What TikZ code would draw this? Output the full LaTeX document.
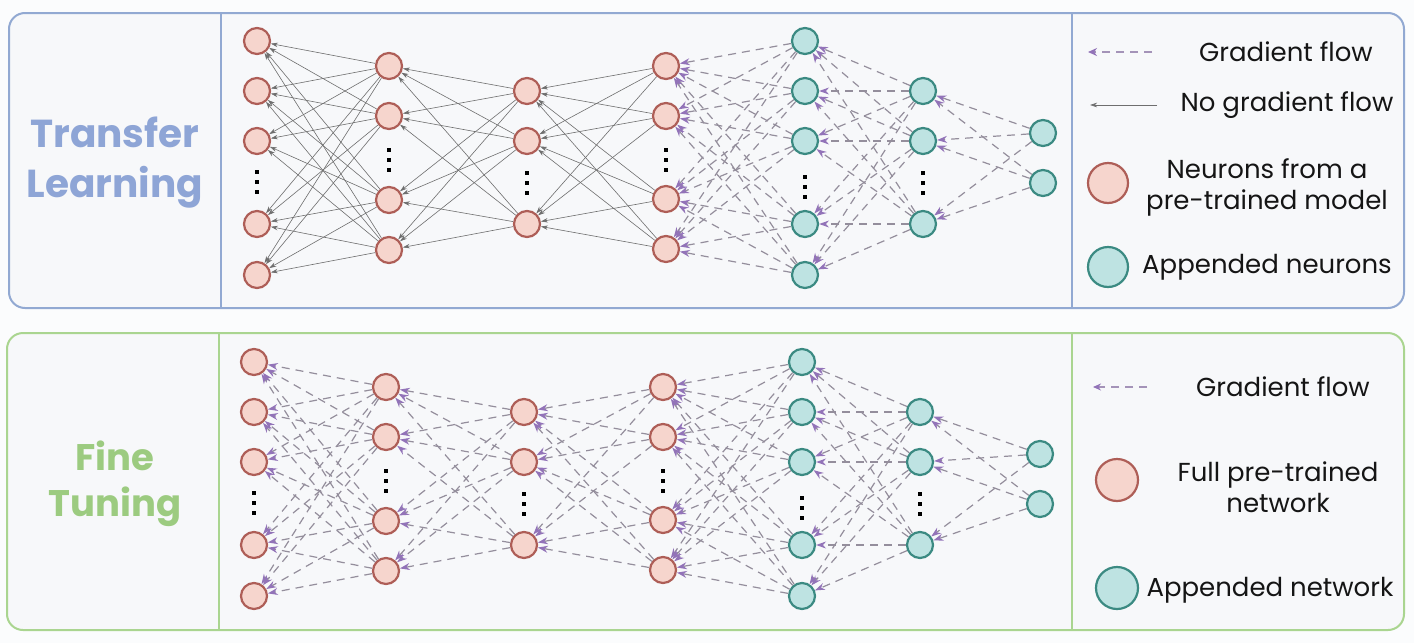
\documentclass[tikz,border=0pt]{standalone}
\usepackage{fontspec}
\setmainfont{Poppins}
\usetikzlibrary{arrows.meta}
\definecolor{bgcol}{HTML}{FBFCFD}
\definecolor{panelfill}{HTML}{F7F8FA}
\definecolor{topframe}{HTML}{92A9D2}
\definecolor{botframe}{HTML}{AAD590}
\definecolor{titleblue}{HTML}{8EA5D6}
\definecolor{titlegreen}{HTML}{9CCB80}
\definecolor{pinkfill}{HTML}{F6D5CD}
\definecolor{pinkline}{HTML}{AE5E57}
\definecolor{tealfill}{HTML}{BEE3E2}
\definecolor{tealline}{HTML}{3B8A82}
\definecolor{solidgray}{HTML}{6E6E6E}
\definecolor{dashgray}{HTML}{948E9C}
\definecolor{arrowpurple}{HTML}{9273B8}
\definecolor{legdash}{HTML}{A493B8}
\definecolor{txt}{HTML}{151515}
\begin{document}
\begin{tikzpicture}[x=1pt,y=-1pt,
  pn/.style={circle, draw=pinkline, fill=pinkfill, line width=2.2pt, minimum size=26pt, inner sep=0pt},
  cn/.style={circle, draw=tealline, fill=tealfill, line width=2.2pt, minimum size=26pt, inner sep=0pt},
  solidarrow/.style={draw=solidgray, line width=0.6pt, -{Stealth[length=7pt,width=4.5pt]}},
  dasharrow/.style={draw=dashgray, line width=1.2pt, dash pattern=on 8pt off 6pt, -{Stealth[length=10pt,width=7pt,color=arrowpurple]}},
  legtext/.style={font=\fontsize{26}{31}\selectfont, text=txt, align=center, inner sep=0pt},
  titletext/.style={font=\fontsize{39}{50}\selectfont\bfseries, align=center, inner sep=0pt},
  frame/.style={line width=2pt, rounded corners=16pt, fill=panelfill}
  ]
\useasboundingbox (0,0) rectangle (1414,643);
\fill[bgcol] (0,0) rectangle (1414,643);
% panels
\draw[frame, draw=topframe] (9,13) rectangle (1404,308);
\draw[topframe, line width=2pt] (221,13) -- (221,308);
\draw[topframe, line width=2pt] (1072,13) -- (1072,308);
\draw[frame, draw=botframe] (7,333) rectangle (1404,630);
\draw[botframe, line width=2pt] (219,333) -- (219,630);
\draw[botframe, line width=2pt] (1072,333) -- (1072,630);
% titles
\node[titletext, text=titleblue] (ttl) at (115,163) {Transfer\\Learning};
\node[titletext, text=titlegreen, font=\fontsize{37}{46}\selectfont\bfseries] (btl) at (115,484) {Fine\\Tuning};
% neurons
\foreach \p/\dx/\dy in {t/0/0, b/-3/321} {
  \begin{scope}[shift={(\dx,\dy)}]
    \foreach \i/\y in {1/41,2/91,3/141,4/224,5/275} \node[pn] (\p1\i) at (257,\y) {};
    \foreach \i/\y in {1/66,2/116,3/200,4/250} \node[pn] (\p2\i) at (389,\y) {};
    \foreach \i/\y in {1/91,2/141,3/224} \node[pn] (\p3\i) at (527,\y) {};
    \foreach \i/\y in {1/66,2/116,3/199,4/249} \node[pn] (\p4\i) at (666,\y) {};
    \foreach \i/\y in {1/41,2/91,3/141,4/224,5/275} \node[cn] (\p5\i) at (805,\y) {};
    \foreach \i/\y in {1/91,2/141,3/224} \node[cn] (\p6\i) at (923,\y) {};
    \foreach \i/\y in {1/133,2/183} \node[cn] (\p7\i) at (1043,\y) {};
    \foreach \x/\y in {257/182,389/160,527/183,666/160,805/187,923/183}
      \foreach \d in {-10,0,10} \fill[black] (\x-2,\y+\d-2) rectangle ++(4,4);
  \end{scope}
}
% connections
\foreach \p/\st in {t/solidarrow, b/dasharrow} {
  \foreach \i in {1,...,5} \foreach \j in {1,...,4} \draw[\st] (\p2\j) -- (\p1\i);
  \foreach \i in {1,...,4} \foreach \j in {1,...,3} \draw[\st] (\p3\j) -- (\p2\i);
  \foreach \i in {1,...,3} \foreach \j in {1,...,4} \draw[\st] (\p4\j) -- (\p3\i);
}
\foreach \p in {t,b} {
  \foreach \i in {1,...,4} \foreach \j in {1,...,5} \draw[dasharrow] (\p5\j) -- (\p4\i);
  \foreach \i in {1,...,5} \foreach \j in {1,...,3} \draw[dasharrow] (\p6\j) -- (\p5\i);
  \foreach \i in {1,...,3} \foreach \j in {1,...,2} \draw[dasharrow] (\p7\j) -- (\p6\i);
}
% legend top
\coordinate (la1) at (1088,52);
\coordinate (lb1) at (1152,52);
\draw[draw=legdash, line width=2.5pt, dash pattern=on 8pt off 6pt, -{Stealth[length=9pt,width=8pt,color=arrowpurple]}] (lb1) -- (la1);
\node[legtext] (lt1) at (1286,52) {Gradient flow};
\coordinate (la2) at (1090,105);
\coordinate (lb2) at (1157,105);
\draw[solidarrow] (lb2) -- (la2);
\node[legtext] (lt2) at (1287,105) {No gradient flow};
\node[pn, minimum size=40pt] (lp1) at (1108,183) {};
\node[legtext] (lt3) at (1267,187) {Neurons from a\\pre-trained model};
\node[cn, minimum size=40pt] (lc1) at (1108,267) {};
\node[legtext] (lt4) at (1267,267) {Appended neurons};
% legend bottom
\coordinate (la3) at (1093,387);
\coordinate (lb3) at (1147,387);
\draw[draw=legdash, line width=2pt, dash pattern=on 8pt off 6pt, -{Stealth[length=8pt,width=7pt,color=arrowpurple]}] (lb3) -- (la3);
\node[legtext] (lt5) at (1283,387) {Gradient flow};
\node[pn, minimum size=42pt] (lp2) at (1117,480) {};
\node[legtext] (lt6) at (1278,487) {Full pre-trained\\network};
\node[cn, minimum size=42pt] (lc2) at (1117,588) {};
\node[legtext] (lt7) at (1270,590) {Appended network};
\end{tikzpicture}
\end{document}
